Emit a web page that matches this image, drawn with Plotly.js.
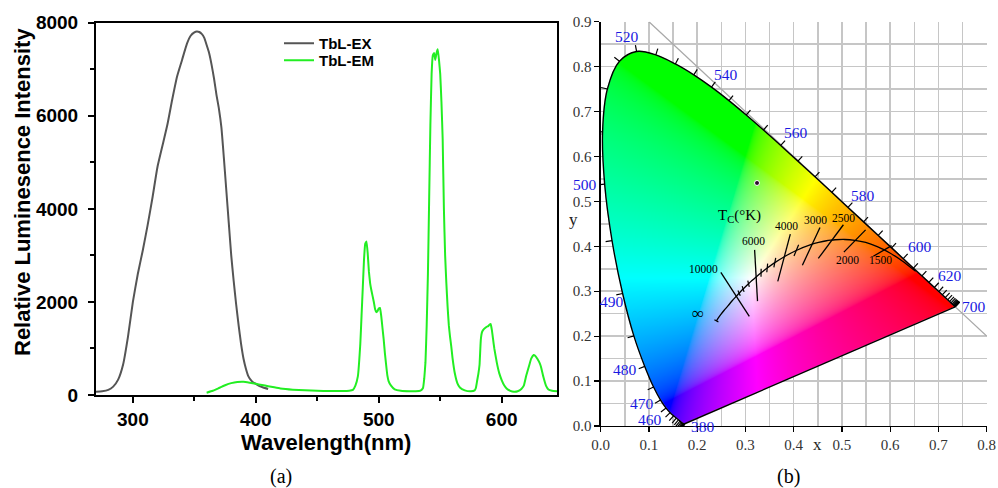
<!DOCTYPE html>
<html><head><meta charset="utf-8">
<script src="https://cdn.plot.ly/plotly-3.0.1.min.js"></script>
<style>html,body{margin:0;padding:0;background:#fff}#chart{width:998px;height:488px}</style>
</head><body><div id="chart"></div>
<script>
// ===== Panel (a): excitation / emission spectra =====
const exWavelength = [270,275,280,284,288,292,296,300,304,308,312,316,320,324,328,332,336,340,344,347,350,352,354,356,358,360,362,364,366,368,370,372,374,376,378,380,382,384,386,388,390,392,394,396,398,400,403,406,410];
const exIntensity  = [70,80,110,180,330,650,1250,2000,2600,3100,3650,4250,4900,5350,5800,6350,6850,7200,7550,7720,7790,7810,7800,7760,7680,7520,7350,7100,6800,6450,6150,5750,5100,4400,3700,3000,2450,1950,1500,1100,780,560,400,320,270,240,190,160,130];

const emWavelength = [360,365,370,375,380,385,390,395,400,405,410,415,420,430,440,450,460,470,476,479,481,483,485,486,487,488,489,490,491,492,493,494,496,497,498,499,500,501,502,503,504,505,506,507,508,510,513,518,525,530,534,536,537,538,539,540,541,542,543,544,545,546,547,548,549,550,551,552,553,554,555,556,557,558,559,560,562,564,566,570,575,578,579,580,581,582,583,584,585,587,588,589,590,591,592,593,594,596,598,600,602,604,607,610,613,616,618,620,622,624,626,627,629,631,632,634,636,638,641,645];
const emIntensity  = [50,90,150,210,255,280,285,265,240,215,190,165,140,115,100,90,85,85,90,110,200,400,1100,1700,2300,2900,3250,3300,3050,2650,2400,2250,2000,1850,1780,1800,1860,1870,1700,1450,1200,900,650,420,300,200,120,90,80,80,95,150,350,700,1500,2600,4200,5800,6900,7300,7350,7200,7350,7430,7200,6900,6300,5500,4000,3000,2400,1900,1500,1250,1040,800,450,250,160,100,80,100,150,300,450,650,1180,1350,1400,1450,1470,1480,1510,1525,1400,1200,1000,700,470,320,210,140,90,70,80,130,200,420,600,780,860,850,780,680,600,380,200,120,90,80];

const seriesNames = ['TbL-EX', 'TbL-EM'];
const xTitleA = 'Wavelength(nm)';
const yTitleA = 'Relative Luminesence Intensity';

// ===== Panel (b): CIE 1931 chromaticity diagram =====
const locusWavelength = [380,385,390,395,400,405,410,415,420,425,430,435,440,445,450,455,460,465,470,475,480,485,490,495,500,505,510,515,520,525,530,535,540,545,550,555,560,565,570,575,580,585,590,595,600,605,610,615,620,625,630,635,640,645,650,655,660,665,670,675,680,685,690,695,700];
const locusX = [0.1741,0.1740,0.1738,0.1736,0.1733,0.1730,0.1726,0.1721,0.1714,0.1703,0.1689,0.1669,0.1644,0.1611,0.1566,0.1510,0.1440,0.1355,0.1241,0.1096,0.0913,0.0687,0.0454,0.0235,0.0082,0.0039,0.0139,0.0389,0.0743,0.1142,0.1547,0.1929,0.2296,0.2658,0.3016,0.3373,0.3731,0.4087,0.4441,0.4788,0.5125,0.5448,0.5752,0.6029,0.6270,0.6482,0.6658,0.6801,0.6915,0.7006,0.7079,0.7140,0.7190,0.7230,0.7260,0.7283,0.7300,0.7311,0.7320,0.7327,0.7334,0.7340,0.7344,0.7346,0.7347];
const locusY = [0.0050,0.0050,0.0049,0.0049,0.0048,0.0048,0.0048,0.0048,0.0051,0.0058,0.0069,0.0086,0.0109,0.0138,0.0177,0.0227,0.0297,0.0399,0.0578,0.0868,0.1327,0.2007,0.2950,0.4127,0.5384,0.6548,0.7502,0.8120,0.8338,0.8262,0.8059,0.7816,0.7543,0.7243,0.6923,0.6589,0.6245,0.5896,0.5547,0.5202,0.4866,0.4544,0.4242,0.3965,0.3725,0.3514,0.3340,0.3197,0.3083,0.2993,0.2920,0.2859,0.2809,0.2770,0.2740,0.2717,0.2700,0.2689,0.2680,0.2673,0.2666,0.2660,0.2656,0.2654,0.2653];
const locusLabelWavelengths = [380,460,470,480,490,500,520,540,560,580,600,620,700];

const planckTemp = [1000,1200,1400,1500,1600,1800,2000,2200,2400,2500,2600,2800,3000,3500,4000,4500,5000,5500,6000,6500,7000,8000,9000,10000,12000,15000,20000,30000,Infinity];
const planckX = [0.6528,0.6250,0.5985,0.5857,0.5732,0.5492,0.5267,0.5056,0.4859,0.4767,0.4679,0.4517,0.4369,0.4053,0.3805,0.3608,0.3451,0.3324,0.3221,0.3135,0.3064,0.2952,0.2869,0.2807,0.2720,0.2637,0.2559,0.2487,0.2399];
const planckY = [0.3444,0.3675,0.3858,0.3931,0.3993,0.4085,0.4133,0.4152,0.4146,0.4137,0.4124,0.4086,0.4041,0.3907,0.3768,0.3636,0.3516,0.3409,0.3318,0.3237,0.3165,0.3048,0.2956,0.2884,0.2782,0.2674,0.2576,0.2478,0.2342];
const planckTickTemps = [9000,8000,7000,5500,5000,4500,3500,Infinity];

const isothermLabels = ['10000','6000','4000','3000','2500','2000','1500'];
const isothermX1 = [0.249,0.319,0.393,0.4545,0.503,0.549,0.603];
const isothermY1 = [0.342,0.392,0.427,0.4417,0.448,0.4365,0.4016];
const isothermX2 = [0.308,0.325,0.367,0.418,0.451,0.504,0.565];
const isothermY2 = [0.244,0.278,0.322,0.358,0.373,0.387,0.378];

const sampleX = [0.324];
const sampleY = [0.541];

const diagX = [0.1, 0.8];
const diagY = diagX.map(v => 1 - v);   // line x + y = 1

// ===== Layout geometry =====
const W = 998, H = 488;
const domA = {x: [96/W, 557/W], y: [1-395/H, 1-22.7/H]};
const domB = {x: [600.7/W, 986.7/W], y: [1-426/H, 1-21.7/H]};
const rangeBX = [0, 0.8], rangeBY = [0, 0.9];
const sx = W*(domB.x[1]-domB.x[0])/(rangeBX[1]-rangeBX[0]);
const sy = H*(domB.y[1]-domB.y[0])/(rangeBY[1]-rangeBY[0]);

// ===== colour field of the chromaticity diagram =====
function xyToRGB(x, y) {
  const X = x / y, Y = 1, Z = (1 - x - y) / y;
  let r = 3.2406*X - 1.5372*Y - 0.4986*Z;
  let g = -0.9689*X + 1.8758*Y + 0.0415*Z;
  let b = 0.0557*X - 0.2040*Y + 1.0570*Z;
  r = Math.max(r, 0); g = Math.max(g, 0); b = Math.max(b, 0);
  const m = Math.max(r, g, b) || 1;
  const gm = c => { c /= m; return c <= 0.0031308 ? 12.92*c : 1.055*Math.pow(c, 1/2.4) - 0.055; };
  return [gm(r)*255, gm(g)*255, gm(b)*255];
}
// Catmull-Rom tangents as used by plotly's spline (screen-pixel space)
function makeTangent(p0, p1, p2, s) {
  const d1x = p0[0]-p1[0], d1y = p0[1]-p1[1], d2x = p2[0]-p1[0], d2y = p2[1]-p1[1];
  const d1a = Math.pow(d1x*d1x + d1y*d1y, 0.25), d2a = Math.pow(d2x*d2x + d2y*d2y, 0.25);
  const nx = (d2a*d2a*d1x - d1a*d1a*d2x)*s, ny = (d2a*d2a*d1y - d1a*d1a*d2y)*s;
  const e1 = 3*d2a*(d1a+d2a), e2 = 3*d1a*(d1a+d2a);
  return [[p1[0] + (e1 && nx/e1), p1[1] + (e1 && ny/e1)], [p1[0] - (e2 && nx/e2), p1[1] - (e2 && ny/e2)]];
}
const locusSmooth = 1;
const IW = 400, IH = 450, pdx = rangeBX[1]/IW, pdy = rangeBY[1]/IH;
const cv = document.createElement('canvas'); cv.width = IW; cv.height = IH;
const ctx = cv.getContext('2d');
const imgData = ctx.createImageData(IW, IH);
for (let j = 0; j < IH; j++) {
  const y = (j + 0.5) * pdy;
  for (let i = 0; i < IW; i++) {
    const x = (i + 0.5) * pdx;
    const c = xyToRGB(x, y);
    const k = 4*(j*IW + i);
    imgData.data[k] = c[0]; imgData.data[k+1] = c[1]; imgData.data[k+2] = c[2]; imgData.data[k+3] = 255;
  }
}
ctx.putImageData(imgData, 0, 0);
ctx.globalCompositeOperation = 'destination-in';
(function maskPath() {
  const pts = locusX.map((x, k) => [x*sx, locusY[k]*sy]);
  const toC = p => [p[0]/sx/pdx, p[1]/sy/pdy];
  const tg = [];
  for (let i = 1; i < pts.length-1; i++) tg.push(makeTangent(pts[i-1], pts[i], pts[i+1], locusSmooth));
  ctx.beginPath();
  let a = toC(pts[0]); ctx.moveTo(a[0], a[1]);
  let q = toC(tg[0][0]), b = toC(pts[1]); ctx.quadraticCurveTo(q[0], q[1], b[0], b[1]);
  for (let i = 2; i < pts.length-1; i++) {
    const c1 = toC(tg[i-2][1]), c2 = toC(tg[i-1][0]), e = toC(pts[i]);
    ctx.bezierCurveTo(c1[0], c1[1], c2[0], c2[1], e[0], e[1]);
  }
  q = toC(tg[pts.length-3][1]); b = toC(pts[pts.length-1]); ctx.quadraticCurveTo(q[0], q[1], b[0], b[1]);
  ctx.closePath(); ctx.fill();
})();
const fieldSrc = cv.toDataURL('image/png');

// ===== locus wavelength ticks (outward normal, px length) =====
function locusNormal(i) {
  const n = locusX.length; let a = i, b = i, len = 0;
  while (len < 6 && (a > 0 || b < n-1)) {
    if (a > 0) a--; if (b < n-1) b++;
    len = Math.hypot((locusX[b]-locusX[a])*sx, (locusY[b]-locusY[a])*sy);
  }
  const tx = (locusX[b]-locusX[a])*sx/len, ty = (locusY[b]-locusY[a])*sy/len;
  return [-ty, tx];
}
const tickLen = 6.5;
const ltX = [], ltY = [];
locusX.forEach((x, i) => {
  const nrm = locusNormal(i);
  ltX.push(x, x + tickLen*nrm[0]/sx, null);
  ltY.push(locusY[i], locusY[i] + tickLen*nrm[1]/sy, null);
});

// ===== Planckian small ticks (normal in CIE 1960 uv) =====
const xy2uv = (x, y) => { const d = -2*x + 12*y + 3; return [4*x/d, 6*y/d]; };
const uv2xy = (u, v) => { const d = 2*u - 8*v + 4; return [3*u/d, 2*v/d]; };
const ptX = [], ptY = [];
planckTickTemps.forEach(T => {
  const k = planckTemp.indexOf(T);
  const a = Math.max(k-1, 0), b = Math.min(k+1, planckTemp.length-1);
  const ua = xy2uv(planckX[a], planckY[a]), ub = xy2uv(planckX[b], planckY[b]), uc = xy2uv(planckX[k], planckY[k]);
  let tu = ub[0]-ua[0], tv = ub[1]-ua[1]; const L = Math.hypot(tu, tv); tu /= L; tv /= L;
  const d = 0.0045;
  const p1 = uv2xy(uc[0] - d*tv, uc[1] + d*tu), p2 = uv2xy(uc[0] + d*tv, uc[1] - d*tu);
  ptX.push(p1[0], p2[0], null); ptY.push(p1[1], p2[1], null);
});
const isoX = [], isoY = [];
isothermX1.forEach((x, i) => { isoX.push(x, isothermX2[i], null); isoY.push(isothermY1[i], isothermY2[i], null); });

// ===== traces =====
const sans = 'Liberation Sans, Arial, sans-serif';
const serif = 'Liberation Serif, Times New Roman, serif';
const last = locusX.length - 1;
const traces = [
  {x: exWavelength, y: exIntensity, name: seriesNames[0], type: 'scatter', mode: 'lines',
   line: {color: '#555555', width: 2, shape: 'spline', smoothing: 0.5}, xaxis: 'x', yaxis: 'y', legend: 'legend'},
  {x: emWavelength, y: emIntensity, name: seriesNames[1], type: 'scatter', mode: 'lines',
   line: {color: '#22ee22', width: 2, shape: 'spline', smoothing: 0.3}, xaxis: 'x', yaxis: 'y', legend: 'legend2'},
  {type: 'image', source: fieldSrc, x0: pdx/2, y0: pdy/2, dx: pdx, dy: pdy, zsmooth: 'fast',
   xaxis: 'x2', yaxis: 'y2', hoverinfo: 'skip', showlegend: false},
  {x: diagX, y: diagY, mode: 'lines', line: {color: '#a8a8a8', width: 1.2}, xaxis: 'x2', yaxis: 'y2', showlegend: false},
  {x: ltX, y: ltY, mode: 'lines', line: {color: '#000', width: 1.2}, xaxis: 'x2', yaxis: 'y2', showlegend: false},
  {x: locusX, y: locusY, mode: 'lines', line: {color: '#000', width: 1.4, shape: 'spline', smoothing: locusSmooth},
   xaxis: 'x2', yaxis: 'y2', showlegend: false},
  {x: [locusX[last], locusX[0]], y: [locusY[last], locusY[0]], mode: 'lines', line: {color: '#000', width: 1.4},
   xaxis: 'x2', yaxis: 'y2', showlegend: false},
  {x: planckX, y: planckY, mode: 'lines', line: {color: '#000', width: 1.3, shape: 'spline', smoothing: 0.6},
   xaxis: 'x2', yaxis: 'y2', showlegend: false},
  {x: isoX, y: isoY, mode: 'lines', line: {color: '#000', width: 1.3}, xaxis: 'x2', yaxis: 'y2', showlegend: false},
  {x: ptX, y: ptY, mode: 'lines', line: {color: '#000', width: 1.2}, xaxis: 'x2', yaxis: 'y2', showlegend: false},
  {x: sampleX, y: sampleY, mode: 'markers', marker: {color: '#2a0a2a', size: 5, line: {color: '#ffffff', width: 1}},
   xaxis: 'x2', yaxis: 'y2', showlegend: false}
];

// ===== annotations =====
const ann = [];
const P = (px, py) => ({x: px/W, y: 1 - py/H});
ann.push(Object.assign({xref: 'paper', yref: 'paper', text: '<b>' + yTitleA + '</b>', textangle: -90, showarrow: false,
  xanchor: 'center', yanchor: 'middle', font: {family: sans, size: 22, color: '#000'}}, P(22, 192)));
ann.push(Object.assign({xref: 'paper', yref: 'paper', text: '<b>' + xTitleA + '</b>', showarrow: false,
  xanchor: 'center', yanchor: 'middle', font: {family: sans, size: 22, color: '#000'}}, P(326, 442)));
ann.push(Object.assign({xref: 'paper', yref: 'paper', text: '(a)', showarrow: false,
  xanchor: 'center', yanchor: 'middle', font: {family: serif, size: 20, color: '#000'}}, P(281, 476)));
ann.push(Object.assign({xref: 'paper', yref: 'paper', text: '(b)', showarrow: false,
  xanchor: 'center', yanchor: 'middle', font: {family: serif, size: 20, color: '#000'}}, P(788, 476)));
ann.push(Object.assign({xref: 'paper', yref: 'paper', text: 'x', showarrow: false,
  xanchor: 'center', yanchor: 'middle', font: {family: serif, size: 17, color: '#222'}}, P(817, 444)));
ann.push(Object.assign({xref: 'paper', yref: 'paper', text: 'y', showarrow: false,
  xanchor: 'center', yanchor: 'middle', font: {family: serif, size: 17, color: '#222'}}, P(573, 220)));

const labelShift = {380: [18, -3], 460: [-20, -7], 470: [-19, -3], 480: [-20, -3], 490: [-11, -8], 500: [-20, 0],
  520: [-10, 15], 540: [15, 13], 560: [15, 13], 580: [15, 12], 600: [17, 12], 620: [16, 12], 700: [19, 0]};
locusLabelWavelengths.forEach(wl => {
  const k = locusWavelength.indexOf(wl);
  ann.push({xref: 'x2', yref: 'y2', x: locusX[k], y: locusY[k], text: String(wl), showarrow: false,
    xshift: labelShift[wl][0], yshift: labelShift[wl][1], xanchor: 'center', yanchor: 'middle',
    font: {family: serif, size: 15.5, color: 'rgb(25,25,225)'}});
});
const isoLabelPos = [[0.2127, 0.349], [0.3163, 0.4117], [0.3855, 0.445], [0.446, 0.4585], [0.503, 0.4636], [0.511, 0.3695], [0.579, 0.3695]];
isothermLabels.forEach((t, i) => {
  ann.push({xref: 'x2', yref: 'y2', x: isoLabelPos[i][0], y: isoLabelPos[i][1], text: t, showarrow: false,
    xanchor: 'center', yanchor: 'middle', font: {family: serif, size: 11.5, color: '#000'}});
});
ann.push({xref: 'x2', yref: 'y2', x: 0.2023, y: 0.2508, text: '∞', showarrow: false, xanchor: 'center', yanchor: 'middle',
  font: {family: serif, size: 17, color: '#000'}});
ann.push({xref: 'x2', yref: 'y2', x: 0.287, y: 0.467, text: 'T<sub>C</sub>(°K)', showarrow: false, xanchor: 'center', yanchor: 'middle',
  font: {family: serif, size: 15, color: '#000'}});

const gridC = '#c6c6c6';
const legendFont = {family: sans, size: 15, color: '#000', weight: 'bold'};
const layout = {
  width: W, height: H, margin: {l: 0, r: 0, t: 0, b: 0},
  paper_bgcolor: '#fff', plot_bgcolor: 'rgba(0,0,0,0)', showlegend: true,
  legend: {x: 279/W, y: 1 - 27/H, xanchor: 'left', yanchor: 'top', bgcolor: 'rgba(0,0,0,0)', font: legendFont},
  legend2: {x: 279/W, y: 1 - 44/H, xanchor: 'left', yanchor: 'top', bgcolor: 'rgba(0,0,0,0)', font: legendFont},
  xaxis: {domain: domA.x, range: [270, 645], showgrid: false, zeroline: false, showline: true, mirror: true,
    linecolor: '#000', linewidth: 2, ticks: 'outside', ticklen: 6, tickwidth: 2, tickcolor: '#000', dtick: 100, tick0: 0,
    minor: {dtick: 50, ticks: 'outside', ticklen: 4, tickwidth: 2, tickcolor: '#000'},
    tickfont: {family: sans, size: 19, color: '#000', weight: 'bold'}, ticklabelstandoff: 0, anchor: 'y'},
  yaxis: {domain: domA.y, range: [0, 8000], showgrid: false, zeroline: false, showline: true, mirror: true,
    linecolor: '#000', linewidth: 2, ticks: 'outside', ticklen: 6, tickwidth: 2, tickcolor: '#000', dtick: 2000,
    minor: {dtick: 1000, ticks: 'outside', ticklen: 4, tickwidth: 2, tickcolor: '#000'},
    tickfont: {family: sans, size: 19, color: '#000', weight: 'bold'}, ticklabelstandoff: 6, anchor: 'x'},
  xaxis2: {domain: domB.x, range: rangeBX, autorange: false, anchor: 'y2', showline: true, linecolor: '#000', linewidth: 1.3,
    ticks: 'outside', ticklen: 5, tickwidth: 1.2, tickcolor: '#000', dtick: 0.1, tick0: 0, tickformat: '.1f', zeroline: false,
    showgrid: true, gridcolor: gridC, gridwidth: 1.5, minor: {dtick: 0.05, showgrid: true, gridcolor: gridC, gridwidth: 1.5},
    tickfont: {family: serif, size: 15, color: '#333'}},
  yaxis2: {domain: domB.y, range: rangeBY, autorange: false, anchor: 'x2', scaleanchor: false, showline: true, linecolor: '#000', linewidth: 1.3,
    ticks: 'outside', ticklen: 5, tickwidth: 1.2, tickcolor: '#000', dtick: 0.1, tick0: 0, tickformat: '.1f', zeroline: false,
    showgrid: true, gridcolor: gridC, gridwidth: 1.5, minor: {dtick: 0.05, showgrid: true, gridcolor: gridC, gridwidth: 1.5},
    tickfont: {family: serif, size: 15, color: '#333'}},
  annotations: ann
};
Plotly.newPlot('chart', traces, layout, {staticPlot: true, displayModeBar: false});
</script></body></html>
